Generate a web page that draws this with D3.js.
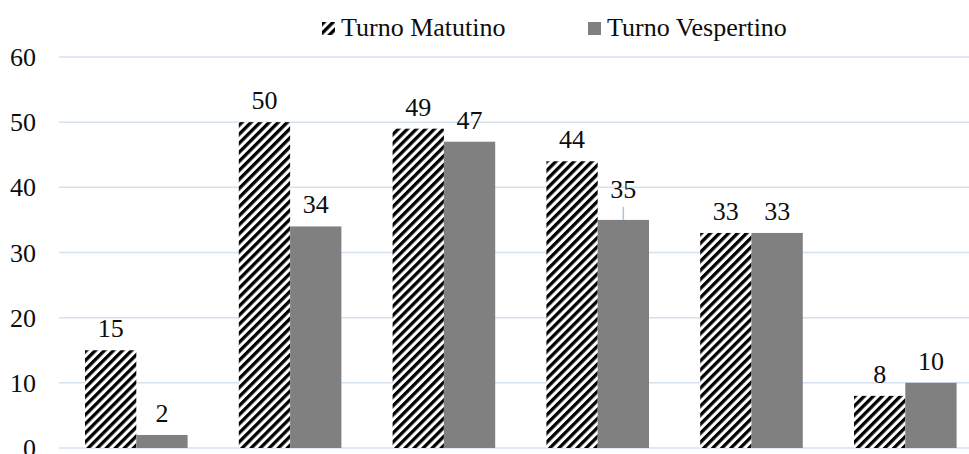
<!DOCTYPE html>
<html><head><meta charset="utf-8">
<script src="https://cdn.jsdelivr.net/npm/d3@7"></script>
</head><body style="margin:0;padding:0;background:#fff;overflow:hidden">
<svg id="chart" width="969" height="454"></svg>
<script>
const categories = ["A","B","C","D","E","F"];
const matutino = [15, 50, 49, 44, 33, 8];
const vespertino = [2, 34, 47, 35, 33, 10];
const seriesNames = ["Turno Matutino", "Turno Vespertino"];
const yTicks = [0, 10, 20, 30, 40, 50, 60];

const svg = d3.select("#chart");
const FS = 26;
const FF = '"Liberation Serif"';
const defs = svg.append("defs");
const pw = 6.4;
const pat = defs.append("pattern").attr("id","hatch").attr("patternUnits","userSpaceOnUse")
  .attr("width",pw).attr("height",pw).attr("patternTransform","rotate(45)");
pat.append("rect").attr("width",pw).attr("height",pw).attr("fill","#fff");
pat.append("rect").attr("x",0).attr("y",0).attr("width",3.3).attr("height",pw).attr("fill","#000");

const y = d3.scaleLinear().domain([0,60]).range([448,57]);
const x0 = d3.scaleBand().domain(categories).range([59.4,982.2]).paddingInner(0.333).paddingOuter(0.1665);
const x1 = d3.scaleBand().domain([0,1]).range([0,x0.bandwidth()]);

// grid
svg.append("g").selectAll("line").data(yTicks).join("line")
  .attr("x1",59).attr("x2",969).attr("y1",d=>y(d)).attr("y2",d=>y(d))
  .attr("stroke","#d6e1f0").attr("stroke-width",1.5);
svg.append("g").selectAll("text").data(yTicks).join("text")
  .attr("x",36).attr("y",d=>y(d)+9).attr("text-anchor","end")
  .style("font-family",FF).attr("font-size",FS).attr("fill","#0d0d0d").text(d=>d);

const data = categories.map((c,i)=>({c, vals:[matutino[i], vespertino[i]]}));
const g = svg.append("g");
data.forEach(d=>{
  d.vals.forEach((v,j)=>{
    const bx = x0(d.c)+x1(j);
    g.append("rect").attr("x",bx).attr("y",y(v)).attr("width",x1.bandwidth()).attr("height",y(0)-y(v))
      .attr("fill", j===0 ? "url(#hatch)" : "#808080");
    let ly = y(v)-13;
    const cx = bx + x1.bandwidth()/2;
    if (d.c==="D" && j===1) {
      ly = y(v)-22;
      g.append("line").attr("x1",cx).attr("x2",cx).attr("y1",y(v)-13).attr("y2",y(v))
        .attr("stroke","#a9c4e4").attr("stroke-width",1.5);
    }
    g.append("text").attr("x",cx).attr("y",ly).attr("text-anchor","middle")
      .style("font-family",FF).attr("font-size",FS).attr("fill","#0d0d0d").text(v);
  });
});

// legend
const leg = svg.append("g");
const legX = [322, 588];
seriesNames.forEach((n,i)=>{
  leg.append("rect").attr("x",legX[i]).attr("y",22).attr("width",13).attr("height",13)
    .attr("fill", i===0 ? "url(#hatch)" : "#808080");
  leg.append("text").attr("x",legX[i]+19).attr("y",36).style("font-family",FF).attr("font-size",FS)
    .attr("fill","#0d0d0d").text(n);
});
</script>
</body></html>
